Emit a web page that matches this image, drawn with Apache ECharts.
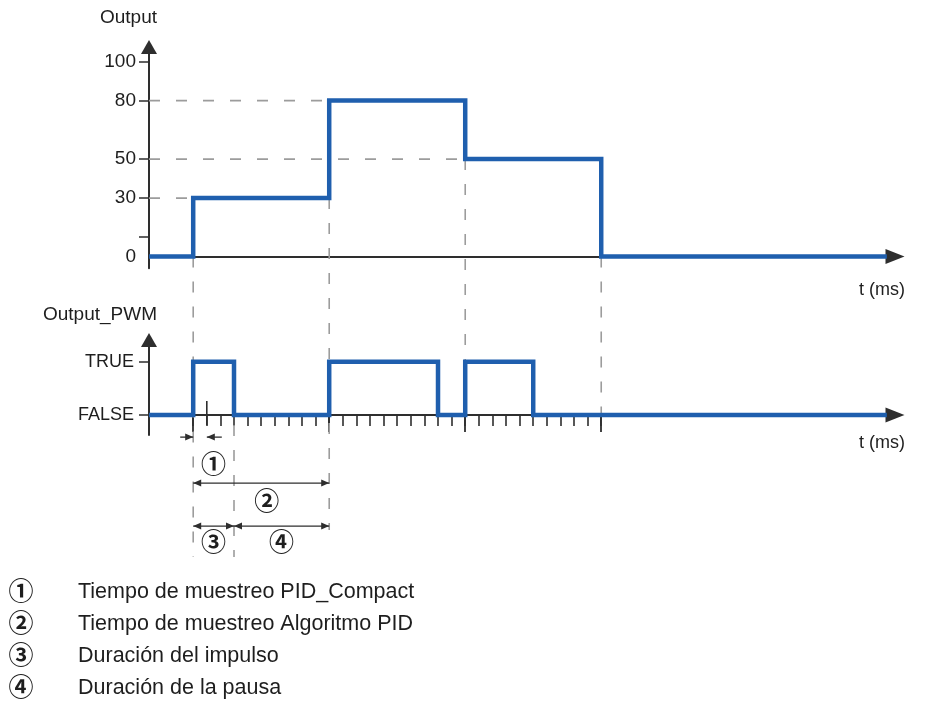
<!DOCTYPE html>
<html><head><meta charset="utf-8">
<script src="https://cdn.jsdelivr.net/npm/echarts@6/dist/echarts.min.js"></script>
<style>html,body{margin:0;padding:0;background:#fff}#c{width:935px;height:707px}</style>
</head><body><div id="c"></div>
<script>
// ---------- data ----------
const outputTimes  = [-3.25, 0, 10, 20, 30, 51];
const outputValues = [0, 30, 80, 50, 0, 0];
const pwmTimes  = [-3.25, 0, 3, 10, 18, 20, 25, 51];
const pwmValues = [0, 1, 0, 1, 0, 1, 0, 0];
const outputTickValues  = [10, 30, 50, 80, 100];
const outputLabelValues = [0, 30, 50, 80, 100];
const pwmLevels = [0, 1];
const pwmLabels = ['FALSE', 'TRUE'];
const refLevels   = [30, 80, 50];
const refEndTimes = [0, 10, 20];
const minorTickTimes = [0,1,2,3,4,5,6,7,8,9,10,11,12,13,14,15,16,17,18,19,20,21,22,23,24,25,26,27,28,29,30];
const majorTickTimes = [0, 10, 20, 30];
const legendMarks = ['①', '②', '③', '④'];
const legendTexts = ['Tiempo de muestreo PID_Compact', 'Tiempo de muestreo Algoritmo PID', 'Duración del impulso', 'Duración de la pausa'];
const sampleTimes = [0, 1];      // PID_Compact sample period (①)
const pidCycle    = [0, 10];     // PID algorithm sample period (②)
const pulseSpan   = [0, 3];      // pulse duration (③)
const pauseSpan   = [3, 10];     // pause duration (④)

// ---------- style ----------
const FONT = '"Liberation Sans", Arial, sans-serif';
const CIRC = '"Noto Sans CJK JP", "Noto Sans CJK SC", "DejaVu Sans", sans-serif';
const AX = '#2e2e2e';
const TXT = '#1e1e1e';
const BLUE = '#1f5fae';
const DASH = '#9c9c9c';
const T_MIN = -3.25, T_MAX = 51.6;

const pair = (xs, ys) => xs.map((x, i) => [x, ys[i]]);

function timeAxis(gridIndex) {
  return {
    type: 'value', gridIndex, min: T_MIN, max: T_MAX,
    axisLine: { show: true, onZero: true, symbol: ['none', 'triangle'], symbolSize: [15, 19], lineStyle: { color: AX, width: 2 } },
    axisTick: { show: false }, axisLabel: { show: false }, splitLine: { show: false }
  };
}

const chart = echarts.init(document.getElementById('c'), null, { renderer: 'canvas' });

const option = {
  animation: false,
  backgroundColor: '#fff',
  grid: [
    { left: 149, width: 746, top: 47, height: 221.3 },
    { left: 149, width: 746, top: 340, height: 95.1 },
    { left: 149, width: 746, top: 415, height: 0 }
  ],
  xAxis: [
    timeAxis(0),
    timeAxis(1),
    { type: 'value', gridIndex: 2, min: T_MIN, max: T_MAX, position: 'bottom',
      axisLine: { show: false, onZero: false },
      axisTick: { show: true, customValues: minorTickTimes, length: 11, lineStyle: { color: AX, width: 1.6 } },
      axisLabel: { show: false }, splitLine: { show: false } },
    { type: 'value', gridIndex: 2, min: T_MIN, max: T_MAX, position: 'top',
      axisLine: { show: false, onZero: false },
      axisTick: { show: true, inside: true, customValues: majorTickTimes, length: 17, lineStyle: { color: AX, width: 1.8 } },
      axisLabel: { show: false }, splitLine: { show: false } }
  ],
  yAxis: [
    { type: 'value', gridIndex: 0, min: -6, max: 107.5,
      axisLine: { show: true, onZero: false, symbol: ['none', 'triangle'], symbolSize: [16, 14], lineStyle: { color: AX, width: 2 } },
      axisTick: { show: true, customValues: outputTickValues, length: 10, lineStyle: { color: AX, width: 1.5 } },
      axisLabel: { show: true, customValues: outputLabelValues, margin: 13, fontSize: 19, color: TXT, fontFamily: FONT },
      splitLine: { show: false } },
    { type: 'value', gridIndex: 1, min: -0.375, max: 1.41,
      axisLine: { show: true, onZero: false, symbol: ['none', 'triangle'], symbolSize: [16, 14], lineStyle: { color: AX, width: 2 } },
      axisTick: { show: true, customValues: pwmLevels, length: 10, lineStyle: { color: AX, width: 1.5 } },
      axisLabel: { show: true, customValues: pwmLevels, margin: 15, fontSize: 18, color: TXT, fontFamily: FONT,
        formatter: v => pwmLabels[pwmLevels.indexOf(v)] },
      splitLine: { show: false } },
    { type: 'value', gridIndex: 2, min: 0, max: 1, show: false }
  ],
  series: [
    ...refLevels.map((lv, i) => ({
      type: 'line', xAxisIndex: 0, yAxisIndex: 0, silent: true, symbol: 'none', z: 1,
      data: [[T_MIN, lv], [refEndTimes[i], lv]],
      lineStyle: { color: DASH, width: 1.6, type: [11, 16] }
    })),
    { type: 'line', name: 'Output', xAxisIndex: 0, yAxisIndex: 0, step: 'end', symbol: 'none', z: 5,
      data: pair(outputTimes, outputValues), lineStyle: { color: BLUE, width: 4.5, join: 'miter', cap: 'butt' } },
    { type: 'line', name: 'Output_PWM', xAxisIndex: 1, yAxisIndex: 1, step: 'end', symbol: 'none', z: 5,
      data: pair(pwmTimes, pwmValues), lineStyle: { color: BLUE, width: 4.5, join: 'miter', cap: 'butt' } }
  ]
};
chart.setOption(option);

// ---------- overlay (positions through the chart's own scales) ----------
const px = (g, t, v) => chart.convertToPixel({ gridIndex: g }, [t, v]);
const xT = t => px(1, t, 0)[0];
const yFalse = px(1, 0, 0)[1];
const yZero = px(0, 0, 0)[1];
const axisX = px(0, T_MIN, 0)[0];
const axisEnd = px(0, T_MAX, 0)[0] + 10;

const els = [];
function vdash(t, y1, y2) {
  els.push({ type: 'line', z: 1, shape: { x1: xT(t), y1, x2: xT(t), y2 }, style: { stroke: DASH, lineWidth: 1.6, lineDash: [11, 14] } });
}
// step instants: dashed verticals from the lower of the two levels
for (let i = 1; i <= 4; i++) {
  const t = outputTimes[i];
  const low = Math.min(outputValues[i - 1], outputValues[i]);
  const yTop = px(0, t, low)[1];
  const yBot = t === pidCycle[0] ? yFalse + 142 : (t === pidCycle[1] ? yFalse + 115 : yFalse);
  vdash(t, yTop, yBot);
}
vdash(pulseSpan[1], yFalse + 10, yFalse + 142);

function line(x1, y1, x2, y2, w) {
  els.push({ type: 'line', z: 3, shape: { x1, y1, x2, y2 }, style: { stroke: AX, lineWidth: w || 1.3 } });
}
function head(x, y, dir) {
  const L = 8, W = 3.5;
  els.push({ type: 'polygon', z: 3, shape: { points: [[x, y], [x - dir * L, y - W], [x - dir * L, y + W]] }, style: { fill: AX } });
}
function span(t1, t2, y) {
  const a = xT(t1), b = xT(t2);
  line(a, y, b, y);
  head(a, y, -1); head(b, y, 1);
}
const circStyle = txt => ({ text: txt, fontSize: 25, fontWeight: 'bold', fontFamily: CIRC, fill: TXT, align: 'center', verticalAlign: 'middle' });
function mark(txt, x, y) {
  els.push({ type: 'text', z: 4, x, y: y - 2, style: circStyle(txt) });
}

// ① sample time PID_Compact
const y1 = yFalse + 22;
line(xT(sampleTimes[1]), yFalse - 14, xT(sampleTimes[1]), yFalse + 10, 1.6);
line(xT(sampleTimes[0]) - 13, y1, xT(sampleTimes[0]), y1); head(xT(sampleTimes[0]), y1, 1);
line(xT(sampleTimes[1]) + 15, y1, xT(sampleTimes[1]), y1); head(xT(sampleTimes[1]), y1, -1);
mark(legendMarks[0], xT(1.5), yFalse + 50);
// ② PID algorithm cycle
span(pidCycle[0], pidCycle[1], yFalse + 68);
mark(legendMarks[1], xT(5.4), yFalse + 87);
// ③ ④ pulse and pause
span(pulseSpan[0], pulseSpan[1], yFalse + 111);
span(pauseSpan[0], pauseSpan[1], yFalse + 111);
mark(legendMarks[2], xT((pulseSpan[0] + pulseSpan[1]) / 2), yFalse + 128);
mark(legendMarks[3], xT((pauseSpan[0] + pauseSpan[1]) / 2), yFalse + 128);

// axis titles
const titleStyle = (text, size, align) => ({ text, fontSize: size, fontFamily: FONT, fill: TXT, align, verticalAlign: 'middle' });
els.push({ type: 'text', x: axisX + 8, y: 18, style: titleStyle('Output', 19, 'right') });
els.push({ type: 'text', x: axisX + 8, y: 315, style: titleStyle('Output_PWM', 19, 'right') });
els.push({ type: 'text', x: axisEnd, y: yZero + 33, style: titleStyle('t (ms)', 18, 'right') });
els.push({ type: 'text', x: axisEnd, y: yFalse + 28, style: titleStyle('t (ms)', 18, 'right') });

// legend
legendTexts.forEach((txt, i) => {
  const y = 592.5 + i * 32;
  els.push({ type: 'text', x: 21, y: y - 2, style: circStyle(legendMarks[i]) });
  els.push({ type: 'text', x: 78, y, style: titleStyle(txt, 21.5, 'left') });
});

chart.setOption({ graphic: { elements: els } });
</script>
</body></html>
